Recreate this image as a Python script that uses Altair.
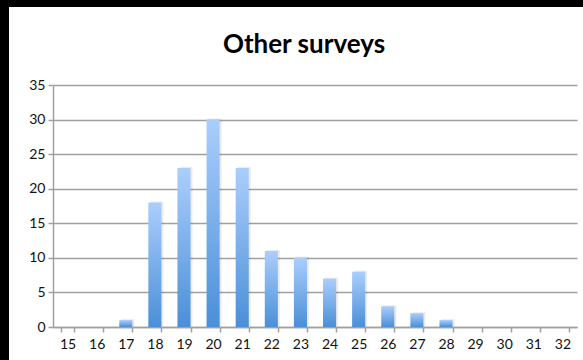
import altair as alt
import pandas as pd

# Respondent ages (x) and number of respondents (y)
ages = list(range(15, 33))
counts = [0, 0, 1, 18, 23, 30, 23, 11, 10, 7, 8, 3, 2, 1, 0, 0, 0, 0]
y_ticks = [0, 5, 10, 15, 20, 25, 30, 35]
title_text = "Other surveys"

df = pd.DataFrame({"age": ages, "count": counts})

FONT = "Lato"
W, H = 524, 242
PAD_L, PAD_T = 53, 85

bar_fill = alt.Gradient(
    gradient="linear",
    stops=[
        alt.GradientStop(color="#abcefc", offset=0),
        alt.GradientStop(color="#4a8fd8", offset=1),
    ],
    x1=0, x2=0, y1=0, y2=1,
)

x_enc = alt.X(
    "age:O",
    sort=ages,
    scale=alt.Scale(paddingInner=0.55, paddingOuter=0.275),
    axis=alt.Axis(
        title=None, labelAngle=0, tickBand="extent", ticks=True, tickSize=5,
        tickColor="#a0a0a0", domainColor="#a0a0a0", domainWidth=1.5, tickWidth=1.5,
        labelFont=FONT, labelFontSize=14, labelColor="#111", labelPadding=5,
        grid=False,
    ),
)
y_enc = alt.Y(
    "count:Q",
    scale=alt.Scale(domain=[0, 35], nice=False),
    axis=alt.Axis(
        title=None, values=y_ticks, tickSize=5, tickColor="#a0a0a0", tickWidth=1.5,
        domainColor="#a0a0a0", domainWidth=1.5, gridColor="#a0a0a0", gridWidth=1.5,
        labelFont=FONT, labelFontSize=14, labelColor="#111", labelPadding=3,
    ),
)

base = alt.Chart(df)

# soft shadow to the right of each bar
shadow = base.mark_bar(color="#000000", opacity=0.08, xOffset=2, yOffset=-1).encode(
    x=x_enc, y=y_enc
)
bars = base.mark_bar(color=bar_fill).encode(x=x_enc, y=y_enc)

# chart title, centred over the white card
title = alt.Chart(alt.Data(values=[{"t": title_text}])).mark_text(
    font=FONT, fontSize=26, fontWeight="bold", color="black",
    align="center", baseline="alphabetic",
).encode(x=alt.value(251), y=alt.value(-32), text="t:N")

# dark frame strips along the left and top edges of the canvas
left_strip = alt.Chart(alt.Data(values=[{"k": 1}])).mark_rect(color="black").encode(
    x=alt.value(-PAD_L), x2=alt.value(-PAD_L + 9),
    y=alt.value(-PAD_T), y2=alt.value(H + 40),
)
top_strip = alt.Chart(alt.Data(values=[{"k": 2}])).mark_rect(color="black").encode(
    x=alt.value(-PAD_L), x2=alt.value(W + 6),
    y=alt.value(-PAD_T), y2=alt.value(-PAD_T + 7),
)

chart = (
    alt.layer(shadow, bars, title, left_strip, top_strip)
    .properties(
        width=W,
        height=H,
        autosize=alt.AutoSizeParams(type="none"),
        padding={"left": PAD_L, "top": PAD_T, "right": 6, "bottom": 33},
        background="white",
    )
    .configure_view(stroke=None)
)

chart.save("out.html", embed_options={"renderer": "svg", "actions": False})
